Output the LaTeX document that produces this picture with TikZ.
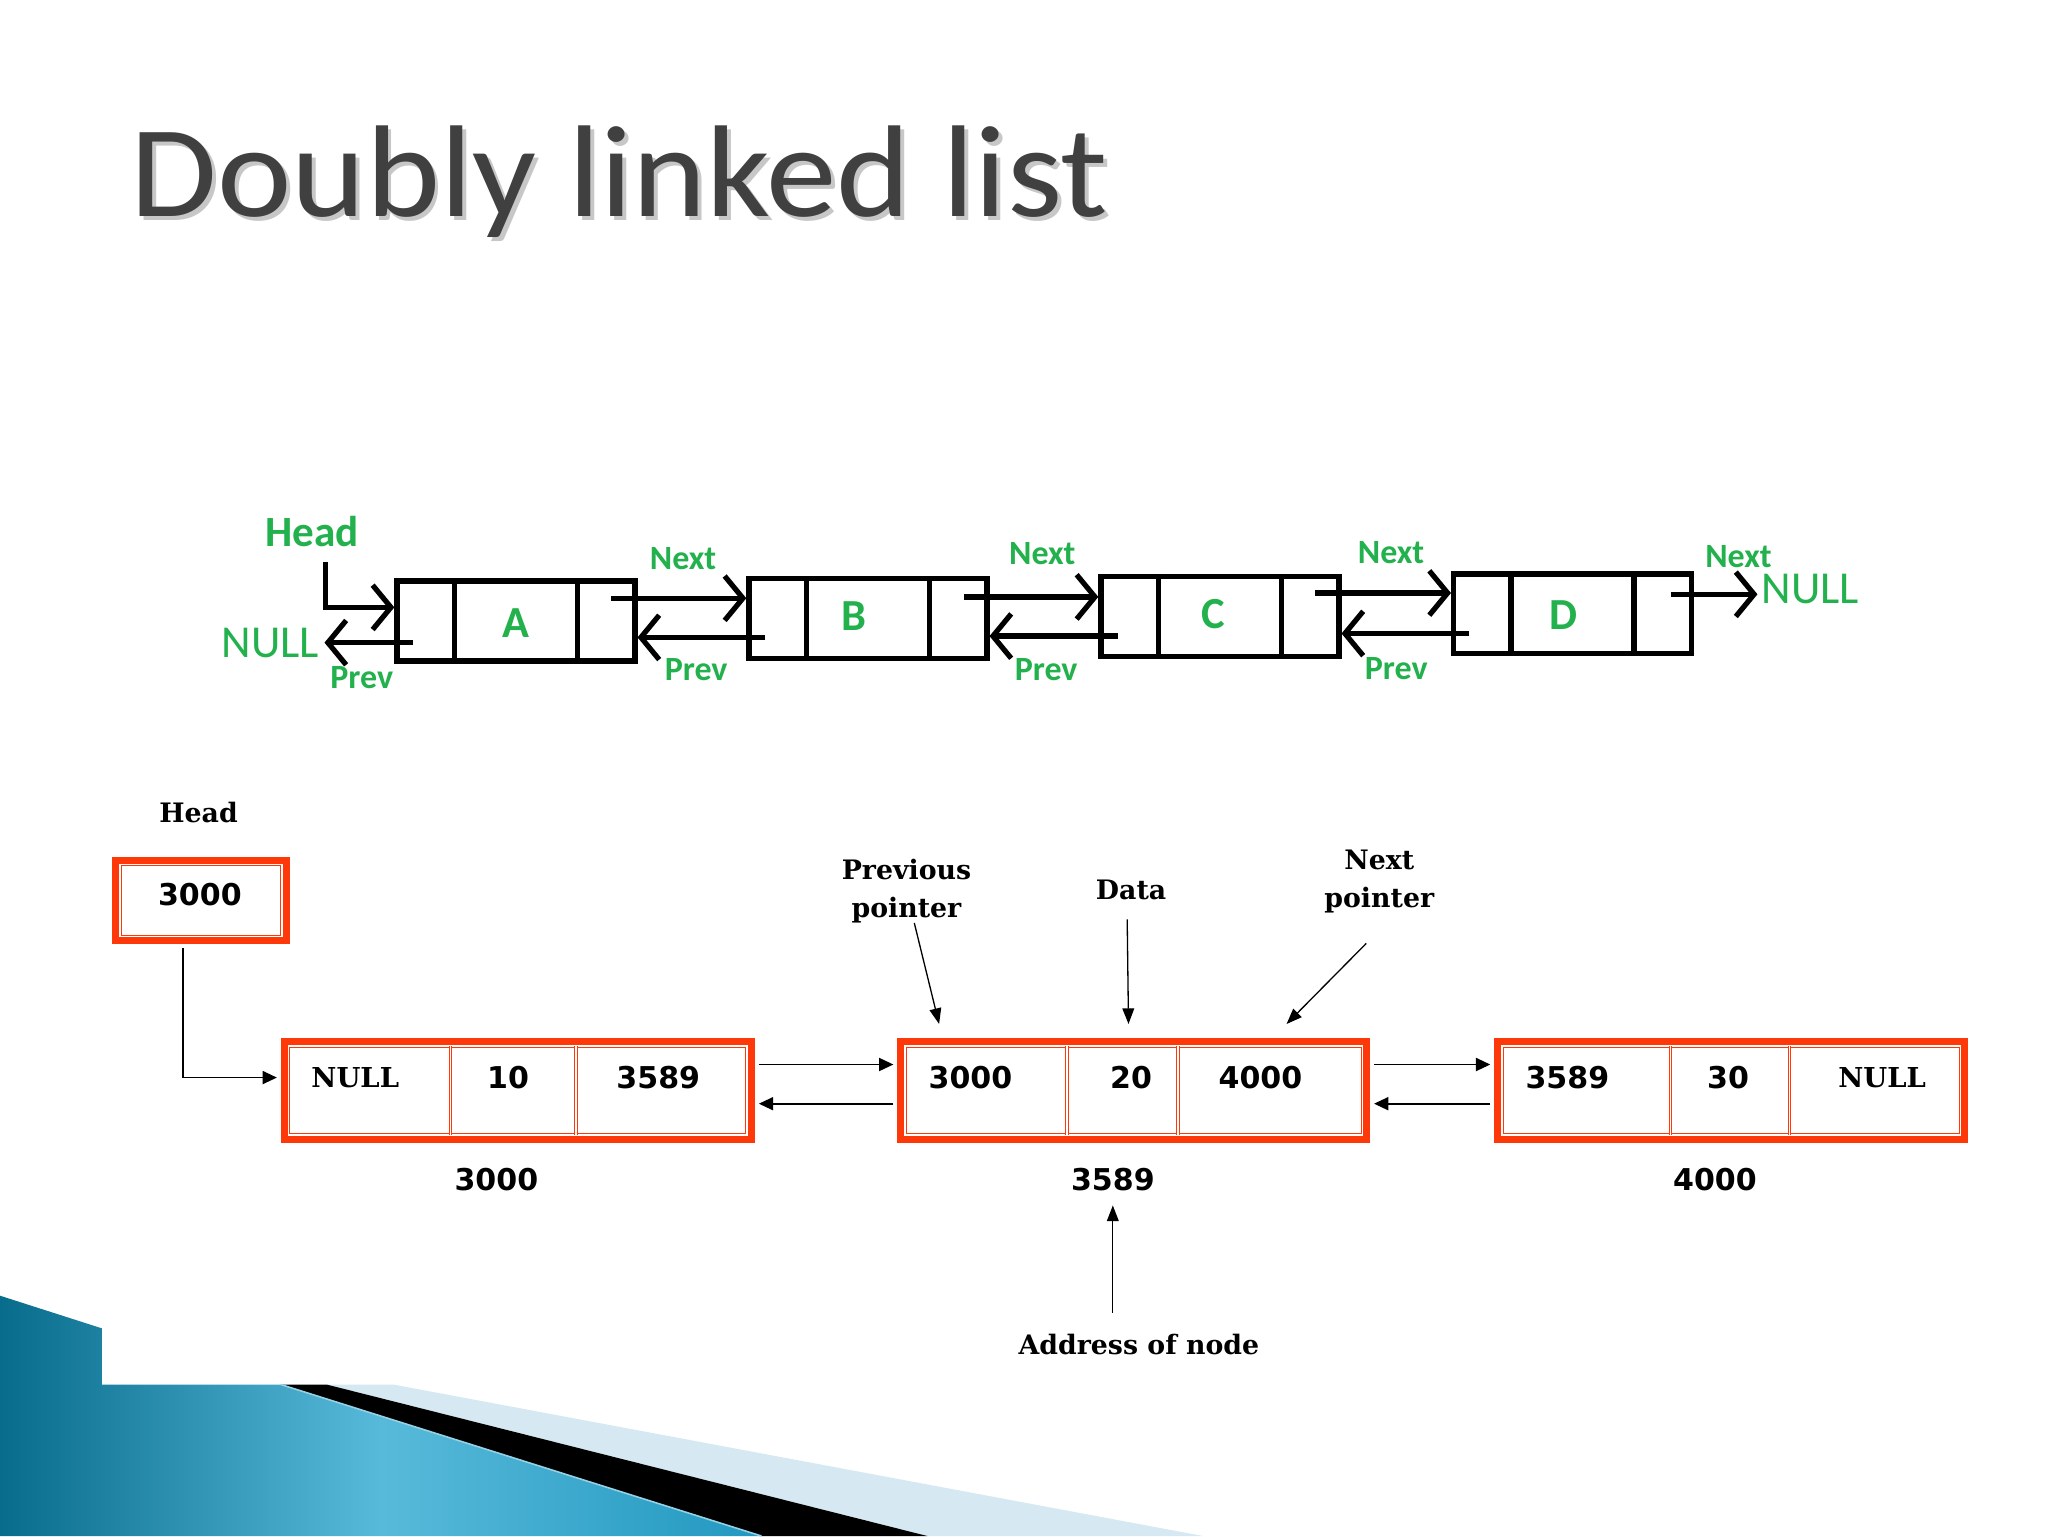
\documentclass[tikz,border=0pt]{standalone}
\usepackage{fontspec}
\setmainfont{Carlito}
\newfontfamily\calfont{Carlito}
\newfontfamily\dsans{DejaVu Sans}
\newfontfamily\dserif{DejaVu Serif}
\usetikzlibrary{arrows.meta,calc}
\definecolor{gfg}{RGB}{34,177,76}
\definecolor{boxred}{RGB}{255,56,10}
\definecolor{titlegray}{RGB}{64,64,64}
\definecolor{tealdark}{RGB}{8,108,140}
\definecolor{teallight}{RGB}{88,186,218}
\definecolor{tealmid}{RGB}{34,152,192}
\definecolor{paleblue}{RGB}{214,232,242}
\definecolor{hilite}{RGB}{150,210,230}
\tikzset{
  tbox/.style={draw=black, line width=4.2pt, minimum width=182pt, minimum height=61pt, inner sep=0pt},
  tdiv/.style={line width=4.2pt},
  tarrow/.style={line width=4pt, -{Straight Barb[length=14pt,width=34pt]}},
  glbl/.style={text=gfg, font=\calfont\bfseries\fontsize{26}{28}\selectfont, inner sep=0pt},
  gbig/.style={text=gfg, font=\calfont\fontsize{35}{38}\selectfont, inner sep=0pt},
  gletter/.style={text=gfg, font=\calfont\bfseries\fontsize{34}{38}\selectfont, inner sep=0pt},
  ghead/.style={text=gfg, font=\calfont\bfseries\fontsize{33}{36}\selectfont, inner sep=0pt},
  rbox/.style={draw=boxred, line width=6pt, fill=white, inner sep=0pt},
  rinner/.style={draw=boxred, line width=0.7pt, double=white, double distance=1.2pt},
  barrow/.style={line width=1.4pt, -{Triangle[length=11pt,width=10pt]}},
  larrow/.style={line width=1pt, -{Triangle[length=12pt,width=9pt]}},
  lab/.style={font=\dserif\bfseries\fontsize{20.5}{29}\selectfont, align=center, inner sep=0pt},
  num/.style={font=\dsans\bfseries\fontsize{23}{25}\selectfont, inner sep=0pt},
  nulltxt/.style={font=\dserif\bfseries\fontsize{21}{25}\selectfont, inner sep=0pt},
}
\begin{document}
\begin{tikzpicture}[x=1pt,y=-1pt]
\useasboundingbox (0,0) rectangle (1568,1176);
\fill[white] (0,0) rectangle (1568,1176);

% ---------- title ----------
\node[anchor=base west, inner sep=0pt, text=black!22, font=\calfont\fontsize{100}{110}\selectfont] at (103,169) {\scalebox{1.08}[1]{Doubly linked list}};
\node[anchor=base west, inner sep=0pt, text=titlegray, font=\calfont\fontsize{100}{110}\selectfont] (title) at (100,166) {\scalebox{1.08}[1]{Doubly linked list}};

% ---------- top diagram ----------
\node[tbox] (a) at (395,475.5) {};
\node[tbox] (b) at (664.5,473.5) {};
\node[tbox] (c) at (934,472) {};
\node[tbox] (d) at (1204,470) {};
\foreach \n in {a,b,c,d}{
  \draw[tdiv] ($(\n.north)+(-47,0)$) -- ($(\n.south)+(-47,0)$);
  \draw[tdiv] ($(\n.north)+(47,0)$) -- ($(\n.south)+(47,0)$);
}
\node[gletter] at ($(a)+(0,1.5)$) {A};
\node[gletter] at ($(b)+(-11,-2)$) {B};
\node[gletter] at ($(c)+(-5,-2)$) {C};
\node[gletter] at ($(d)+(-7,1)$) {D};

\node[ghead] (headT) at (239,407) {Head};
\coordinate (hstart) at (249,430);
\draw[tarrow] (hstart) |- ($(a.west)+(0,-10.5)$);

\node[gbig] (nullL) at (207,492) {NULL};
\node[gbig] (nullR) at (1386,451) {NULL};

\draw[tarrow] ($(a.west)+(14,16.5)$) -- ($(nullL.east)+(4,0)$);
\draw[tarrow] ($(a.east)+(-20,-17.5)$) -- ($(b.west)+(0,-15.5)$);
\draw[tarrow] ($(b.west)+(14.5,14.5)$) -- ($(a.east)+(0,12.5)$);
\draw[tarrow] ($(b.east)+(-19.5,-16.5)$) -- ($(c.west)+(0,-15)$);
\draw[tarrow] ($(c.west)+(15,15)$) -- ($(b.east)+(0,13.5)$);
\draw[tarrow] ($(c.east)+(-20,-18)$) -- ($(d.west)+(0,-16)$);
\draw[tarrow] ($(d.west)+(14,15)$) -- ($(c.east)+(0,13)$);
\draw[tarrow] ($(d.east)+(-18,-15)$) -- ($(nullR.west)+(-3,4)$);

\node[glbl] at (277,519) {Prev};
\node[glbl] at (523,428) {Next};
\node[glbl] at (533,513) {Prev};
\node[glbl] at (798,424) {Next};
\node[glbl] at (801,513) {Prev};
\node[glbl] at (1065,423) {Next};
\node[glbl] at (1069,512) {Prev};
\node[glbl] at (1331,426) {Next};

% ---------- bottom diagram ----------
\node[lab] (headB) at (152,622) {Head};
\node[rbox, minimum width=130pt, minimum height=61pt] (hb) at (154,689.5) {};
\draw[rinner] ($(hb.north west)+(6,6)$) rectangle ($(hb.south east)+(-6,-6)$);
\node[num] at (153,685) {3000};

\node[rbox, minimum width=357pt, minimum height=74pt] (n1) at (396.5,835) {};
\node[rbox, minimum width=356pt, minimum height=74pt] (n2) at (868,835) {};
\node[rbox, minimum width=357pt, minimum height=74pt] (n3) at (1325.5,835) {};
\foreach \n in {n1,n2,n3}{
  \draw[rinner] ($(\n.north west)+(6,6)$) rectangle ($(\n.south east)+(-6,-6)$);
}
\foreach \n/\p/\q in {n1/130/226, n2/130/215, n3/135/226}{
  \draw[rinner] ($(\n.north west)+(\p,6)$) -- ($(\n.south west)+(\p,-6)$);
  \draw[rinner] ($(\n.north west)+(\q,6)$) -- ($(\n.south west)+(\q,-6)$);
}
\node[nulltxt] at (272,825) {NULL};
\node[num] at (389,825) {10};
\node[num] at (504,825) {3589};
\node[num] at (743,825) {3000};
\node[num] at (866,825) {20};
\node[num] at (965,825) {4000};
\node[num] at (1200,825) {3589};
\node[num] at (1323,825) {30};
\node[nulltxt] at (1441,825) {NULL};

\node[num] (ad1) at (380,903) {3000};
\node[num] (ad2) at (852,903) {3589};
\node[num] (ad3) at (1313,903) {4000};

\draw[barrow] ($(hb.south)+(-14,3)$) |- ($(n1.west)+(-3,-10)$);
\draw[barrow] ($(n1.east)+(3,-20)$) -- ($(n2.west)+(-3,-20)$);
\draw[barrow] ($(n2.west)+(-3,10)$) -- ($(n1.east)+(3,10)$);
\draw[barrow] ($(n2.east)+(3,-20)$) -- ($(n3.west)+(-3,-20)$);
\draw[barrow] ($(n3.west)+(-3,10)$) -- ($(n2.east)+(3,10)$);

\node[lab] (prevlbl) at (694,682) {Previous\\pointer};
\node[lab] (datalbl) at (866,681) {Data};
\node[lab] (nextlbl) at (1056,675) {Next\\pointer};
\node[lab] (addrlbl) at (872,1029) {Address of node};

\draw[larrow] ($(prevlbl.south)+(6,0)$) -- ($(n2.north west)+(32,-11)$);
\draw[larrow] ($(datalbl.south)+(-3,15)$) -- ($(n2.north)+(-4,-11)$);
\draw[larrow] ($(nextlbl.south)+(-10,23)$) -- ($(n2.north east)+(-64,-11)$);
\draw[larrow] ($(addrlbl.north)+(-20,-16)$) -- ($(ad2.south)+(0,11)$);

% ---------- decoration ----------
\fill[paleblue] (250,1060) -- (301,1060) -- (921,1176) -- (710,1176) -- cycle;
\fill[black] (215,1060) -- (250,1060) -- (710,1176) -- (583,1176) -- cycle;
\shade[left color=tealdark, right color=tealmid, middle color=teallight] (0,992) -- (78,1017) -- (78,1060) -- (215,1060) -- (583,1176) -- (0,1176) -- cycle;
\draw[hilite, line width=1.2pt] (215,1060) -- (583,1176);
\end{tikzpicture}
\end{document}
